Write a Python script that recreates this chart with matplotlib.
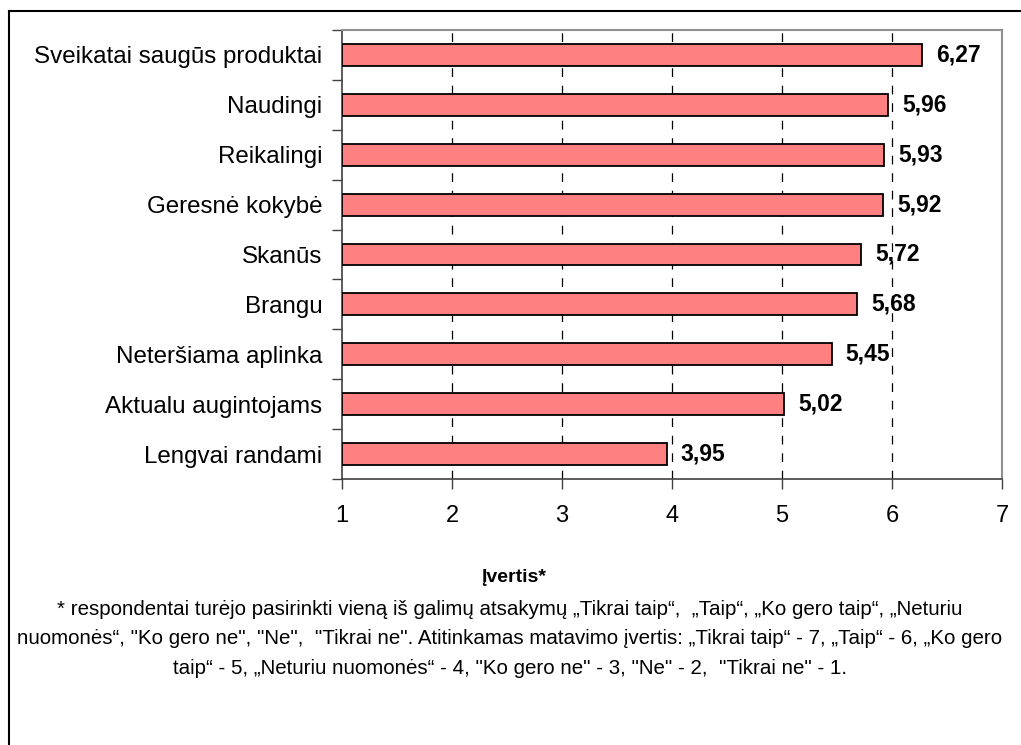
import matplotlib.pyplot as plt
from matplotlib.lines import Line2D

plt.rcParams['font.family'] = ['Liberation Sans', 'DejaVu Sans']

categories = ['Sveikatai saugūs produktai', 'Naudingi', 'Reikalingi', 'Geresnė kokybė',
              'Skanūs', 'Brangu', 'Neteršiama aplinka', 'Aktualu augintojams',
              'Lengvai randami']
values = [6.27, 5.96, 5.93, 5.92, 5.72, 5.68, 5.45, 5.02, 3.95]
xticks = [1, 2, 3, 4, 5, 6, 7]

xlabel = 'Įvertis*'
note = ('* respondentai turėjo pasirinkti vieną iš galimų atsakymų „Tikrai taip“,  „Taip“, „Ko gero taip“, „Neturiu\n'
        'nuomonės“, "Ko gero ne", "Ne",  "Tikrai ne". Atitinkamas matavimo įvertis: „Tikrai taip“ - 7, „Taip“ - 6, „Ko gero\n'
        'taip“ - 5, „Neturiu nuomonės“ - 4, "Ko gero ne" - 3, "Ne" - 2,  "Tikrai ne" - 1.')

W, H = 1021, 745
fig = plt.figure(figsize=(W / 100, H / 100), dpi=100)
ax = fig.add_axes([342 / W, 1 - 479 / H, (1002 - 342) / W, (479 - 30) / H])

n = len(categories)
ypos = list(range(n))
ax.barh(ypos, [v - 1 for v in values], left=1, height=0.44,
        color='#FF8080', edgecolor='black', linewidth=1.3, zorder=3)

for y, v in zip(ypos, values):
    ax.text(v + 0.13, y, f'{v:.2f}'.replace('.', ','), va='center', ha='left',
            fontsize=16.5, fontweight='bold', zorder=4)

ax.set_xlim(1, 7)
ax.set_ylim(n - 0.5, -0.5)
ax.set_xticks(xticks)
ax.set_xticklabels([str(t) for t in xticks], fontsize=17)
ax.tick_params(axis='x', length=7, width=1, color='#404040', pad=12)

# category labels sit between the tick marks at the row boundaries
ax.set_yticks([i - 0.5 for i in range(n + 1)])
ax.set_yticklabels([])
ax.set_yticks(ypos, minor=True)
ax.set_yticklabels(categories, minor=True, fontsize=17.4)
ax.tick_params(axis='y', which='major', length=7, width=1, color='#404040')
ax.tick_params(axis='y', which='minor', length=0, pad=14)

for xv in xticks[1:-1]:
    ax.axvline(xv, color='black', linestyle=(0, (7, 7)), linewidth=0.9, zorder=1)

ax.spines['left'].set_color('#404040')
ax.spines['bottom'].set_color('#404040')
ax.spines['left'].set_linewidth(1.2)
ax.spines['bottom'].set_linewidth(1.2)
ax.spines['top'].set_color('#909090')
ax.spines['right'].set_color('#909090')
ax.spines['top'].set_linewidth(1.5)
ax.spines['right'].set_linewidth(1.5)

fig.text(514 / W, 1 - 578 / H, xlabel, ha='center', va='center',
         fontsize=14, fontweight='bold')
fig.text(510 / W, 1 - 639 / H, note, ha='center', va='center',
         fontsize=14.75, linespacing=1.72)

# outer frame (top and left edges)
fig.add_artist(Line2D([9 / W, 1], [1 - 11 / H, 1 - 11 / H], color='black', linewidth=1.5))
fig.add_artist(Line2D([9 / W, 9 / W], [0, 1 - 11 / H], color='black', linewidth=1.5))

fig.savefig('out.png', dpi=100)
